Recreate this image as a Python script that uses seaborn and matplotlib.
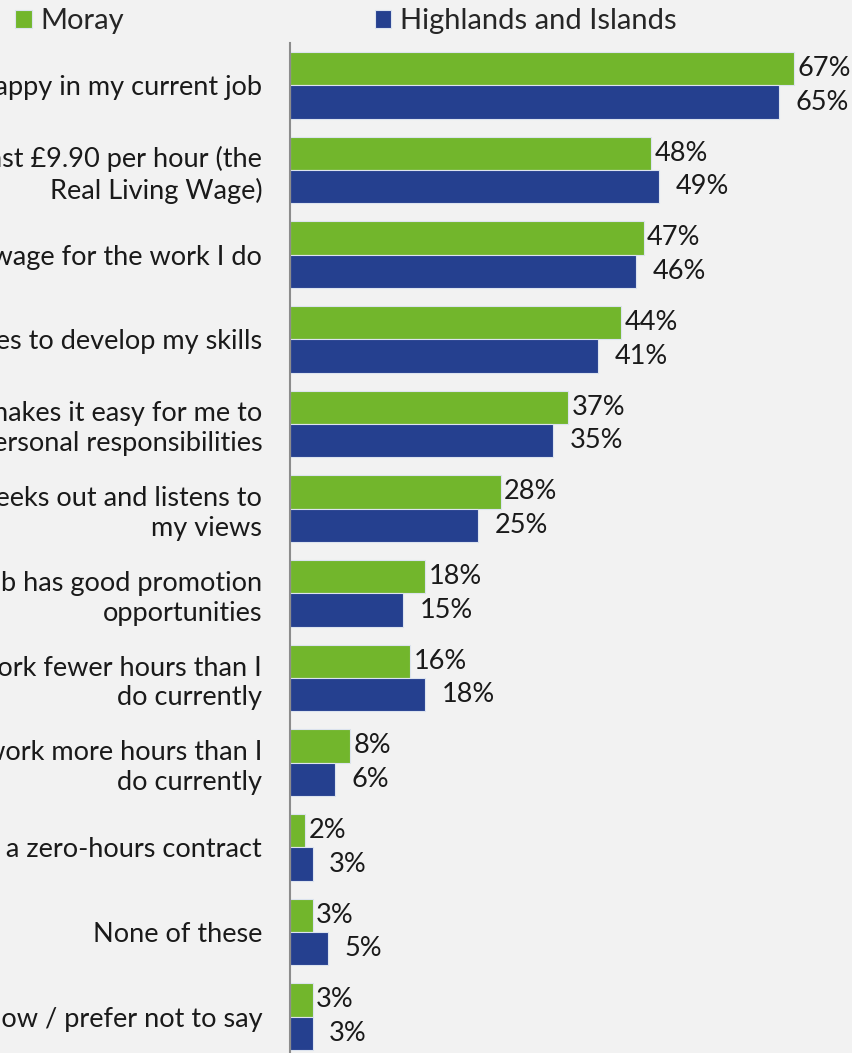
import pandas as pd
import matplotlib.pyplot as plt
import seaborn as sns
from matplotlib.ticker import FixedLocator

statements = [
    'I am happy in my current job',
    'I am paid at least £9.90 per hour (the\nReal Living Wage)',
    'I am paid a fair wage for the work I do',
    'My job gives me opportunities to develop my skills',
    'My employer makes it easy for me to\nbalance work and personal responsibilities',
    'My employer seeks out and listens to\nmy views',
    'My job has good promotion\nopportunities',
    'I would like to work fewer hours than I\ndo currently',
    'I would like to work more hours than I\ndo currently',
    'I am on a zero-hours contract',
    'None of these',
    "Don't know / prefer not to say",
]
moray = [67, 48, 47, 44, 37, 28, 18, 16, 8, 2, 3, 3]
highlands = [65, 49, 46, 41, 35, 25, 15, 18, 6, 3, 5, 3]
regions = ['Moray', 'Highlands and Islands']

df = pd.DataFrame({
    'Statement': statements * 2,
    'Region': [regions[0]] * len(statements) + [regions[1]] * len(statements),
    'Value': moray + highlands,
})

green = '#72B62C'
blue = '#25408F'
bg = '#F2F2F2'

sns.set_style('white')
plt.rcParams['font.family'] = ['Lato', 'DejaVu Sans']

fig = plt.figure(figsize=(8.52, 10.53), dpi=100, facecolor=bg)
ax = fig.add_axes([290 / 852, -6 / 1053, 1 - 290 / 852, 1016 / 1053])
ax.set_facecolor(bg)

sns.barplot(data=df, y='Statement', x='Value', hue='Region', orient='h',
            palette=[green, blue], saturation=1, width=0.79, edgecolor='#DCE3EF',
            linewidth=0.8, ax=ax, legend=True)

ax.set_xlim(0, 74.7)
ax.set_ylim(len(statements) - 0.5, -0.5)
ax.set_xlabel('')
ax.set_ylabel('')
ax.set_xticks([])

for side in ['top', 'right', 'bottom']:
    ax.spines[side].set_visible(False)
ax.spines['left'].set_color('#8C8C8C')
ax.spines['left'].set_linewidth(1.5)

ax.tick_params(axis='y', which='major', length=0, pad=20, labelsize=19.5)
for lab in ax.get_yticklabels():
    lab.set_linespacing(1.25)
    lab.set_color('#1A1A1A')
ax.yaxis.set_minor_locator(FixedLocator([i - 0.5 for i in range(len(statements) + 1)]))
ax.tick_params(axis='y', which='minor', length=8.5, width=1.5, color='#8C8C8C')

pads = [2.5, 12]
for cont, pad in zip(ax.containers, pads):
    ax.bar_label(cont, fmt='{:.0f}%', padding=pad, fontsize=19.5, color='#1A1A1A')

handles, labels = ax.get_legend_handles_labels()
ax.get_legend().remove()
fig.legend(handles, labels, loc='center left', bbox_to_anchor=(15 / 852, 1 - 21 / 1053),
           ncol=2, frameon=False, fontsize=21, handlelength=0.58, handleheight=0.58,
           handletextpad=0.28, columnspacing=8.6, borderpad=0, borderaxespad=0)

fig.savefig('out.png', dpi=100, facecolor=bg)
